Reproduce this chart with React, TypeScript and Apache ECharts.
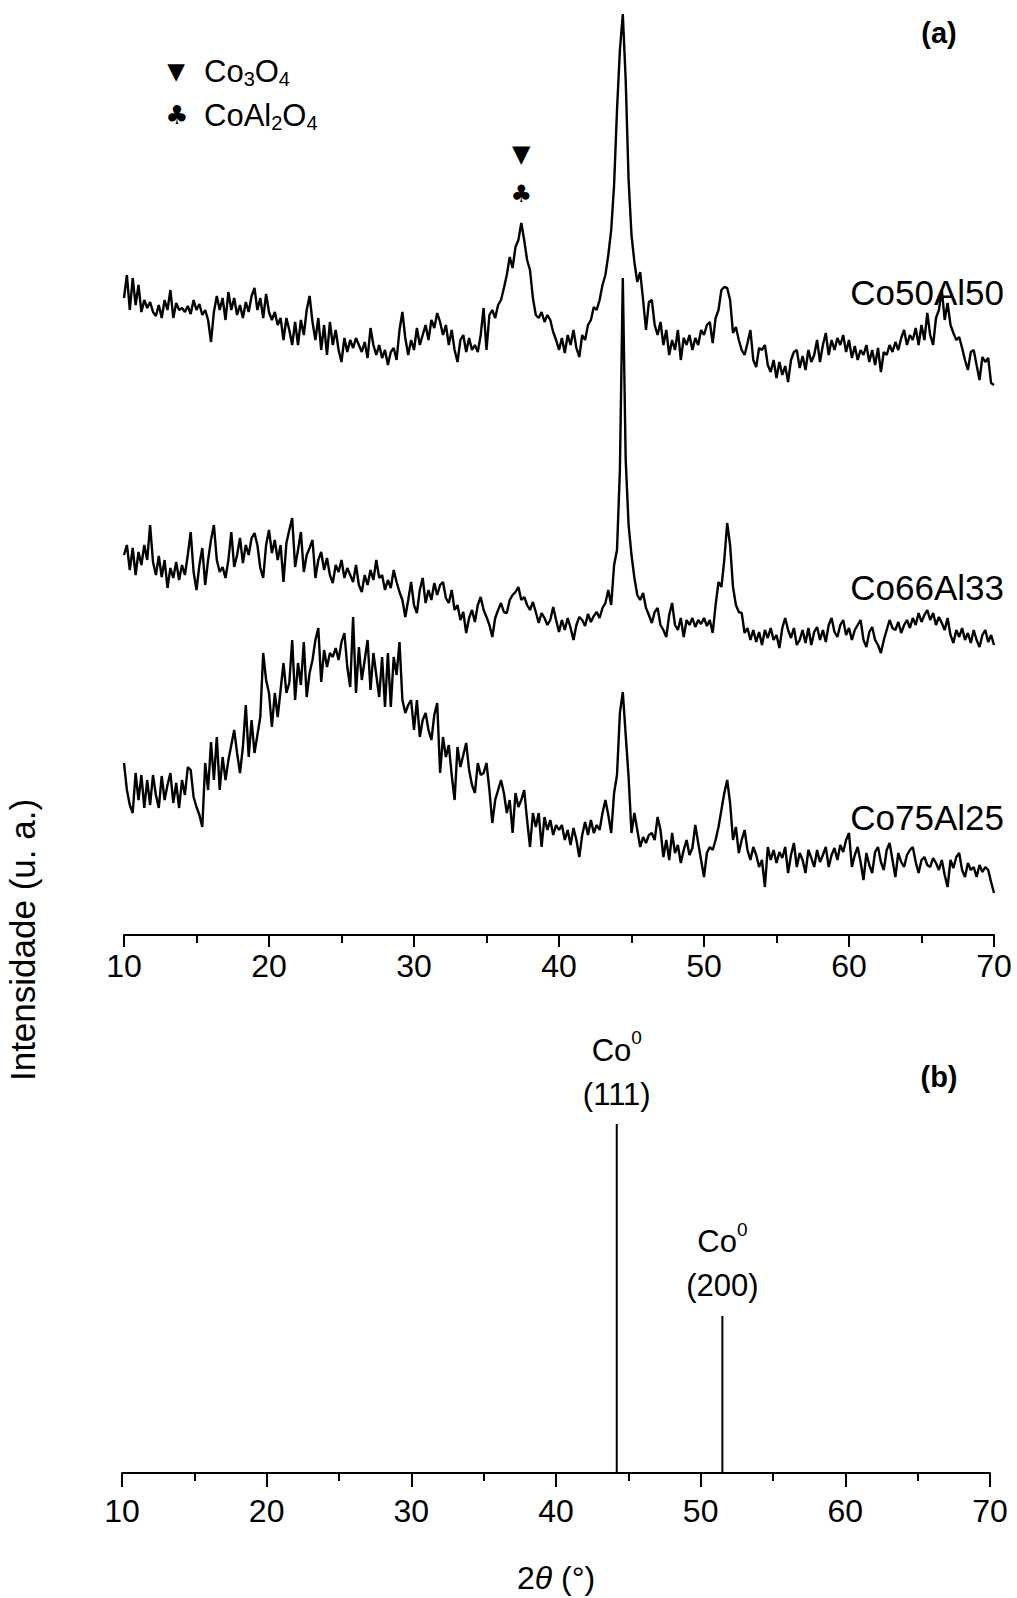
import React, { useEffect, useRef } from "react";
import * as echarts from "echarts";

// XRD scan grid (2θ, degrees)
const scanStart = 10;
const scanStep = 0.2;

// Intensities (a.u., stacked traces as plotted), one value per scan step 10.0 … 70.0
const co50al50: number[] = [
  637, 660, 625, 657, 630, 650, 623, 635, 627, 633,
  623, 619, 630, 617, 635, 625, 645, 617, 632, 625,
  627, 623, 629, 621, 635, 625, 631, 620, 625, 615,
  593, 623, 639, 625, 637, 615, 643, 625, 637, 620,
  630, 617, 633, 623, 639, 647, 625, 637, 617, 641,
  623, 615, 623, 610, 617, 595, 617, 605, 590, 613,
  590, 615, 600, 625, 639, 613, 595, 617, 585, 610,
  580, 613, 590, 605, 585, 573, 597, 583, 595, 587,
  597, 590, 583, 593, 577, 607, 590, 580, 590, 577,
  585, 570, 583, 587, 575, 605, 623, 597, 580, 595,
  585, 607, 590, 600, 610, 595, 615, 607, 622, 613,
  600, 610, 590, 605, 585, 573, 595, 600, 583, 597,
  585, 590, 583, 600, 627, 585, 620, 625, 617, 630,
  635, 647, 660, 678, 667, 688, 695, 712, 695, 675,
  665, 637, 620, 617, 623, 613, 620, 615, 603, 595,
  585, 597, 582, 600, 590, 605, 587, 578, 600, 595,
  610, 615, 628, 625, 635, 650, 660, 680, 705, 750,
  825, 885, 921, 855, 755, 700, 673, 653, 663, 635,
  605, 633, 635, 610, 600, 613, 590, 605, 580, 595,
  585, 605, 575, 597, 590, 600, 585, 597, 590, 605,
  600, 610, 613, 592, 617, 625, 645, 648, 647, 635,
  602, 608, 595, 585, 580, 592, 605, 575, 568, 587,
  585, 590, 570, 563, 575, 557, 573, 560, 569, 553,
  575, 583, 585, 567, 579, 565, 585, 573, 580, 595,
  573, 590, 602, 580, 595, 585, 597, 590, 600, 583,
  595, 577, 589, 575, 585, 580, 590, 573, 585, 570,
  587, 563, 583, 580, 590, 583, 593, 585, 597, 605,
  590, 600, 595, 607, 590, 610, 595, 622, 600, 590,
  617, 625, 645, 615, 632, 610, 602, 595, 598, 587,
  575, 565, 583, 585, 570, 555, 578, 573, 577, 552,
  550,
];

const co66al33: number[] = [
  380, 390, 365, 387, 360, 383, 370, 390, 375, 410,
  373, 360, 379, 358, 375, 347, 367, 357, 373, 355,
  370, 360, 380, 403, 363, 345, 370, 387, 350, 375,
  395, 410, 375, 363, 368, 357, 375, 403, 368, 380,
  397, 372, 390, 380, 397, 402, 390, 367, 357, 390,
  405, 382, 395, 375, 390, 353, 392, 405, 417, 368,
  385, 403, 363, 380, 387, 395, 357, 375, 383, 365,
  377, 360, 352, 370, 363, 375, 357, 367, 360, 353,
  370, 350, 343, 360, 350, 365, 355, 375, 357, 360,
  345, 355, 347, 365, 353, 343, 335, 318, 335, 353,
  330, 322, 345, 357, 332, 345, 335, 352, 340, 350,
  353, 337, 332, 345, 325, 330, 315, 323, 302, 317,
  325, 313, 330, 338, 325, 318, 310, 298, 317, 325,
  332, 323, 322, 335, 340, 343, 348, 335, 338, 330,
  325, 333, 323, 312, 322, 317, 310, 315, 328, 315,
  303, 315, 305, 317, 307, 295, 310, 318, 315, 309,
  321, 313, 319, 323, 317, 327, 332, 345, 330, 370,
  385, 465, 657, 475, 410, 380, 357, 340, 335, 342,
  327, 320, 312, 323, 327, 310, 305, 298, 320, 332,
  310, 305, 317, 298, 315, 310, 317, 308, 315, 311,
  317, 309, 315, 302, 330, 353, 348, 375, 412, 390,
  348, 330, 323, 322, 302, 307, 295, 305, 293, 303,
  290, 305, 297, 307, 295, 300, 287, 307, 317, 305,
  297, 307, 290, 295, 305, 292, 307, 290, 303, 308,
  295, 305, 293, 310, 317, 303, 298, 310, 315, 300,
  307, 295, 305, 310, 315, 295, 288, 303, 308, 295,
  290, 282, 295, 305, 315, 307, 305, 313, 302, 310,
  315, 307, 317, 310, 322, 313, 320, 325, 315, 322,
  310, 318, 312, 305, 317, 300, 292, 305, 298, 307,
  295, 302, 292, 305, 295, 288, 300, 305, 293, 300,
  290,
];

const co75al25: number[] = [
  172, 145, 130, 122, 162, 135, 160, 127, 155, 130,
  160, 140, 127, 159, 135, 150, 162, 132, 152, 127,
  155, 140, 168, 165, 138, 128, 120, 108, 172, 145,
  193, 155, 198, 145, 178, 155, 175, 190, 205, 182,
  162, 188, 230, 178, 215, 182, 200, 218, 282, 255,
  242, 208, 242, 218, 245, 272, 242, 252, 295, 235,
  272, 250, 293, 238, 262, 275, 295, 307, 253, 285,
  268, 282, 278, 287, 275, 293, 302, 268, 248, 318,
  242, 288, 255, 275, 295, 245, 282, 260, 238, 278,
  228, 282, 228, 278, 260, 293, 235, 222, 230, 235,
  205, 235, 198, 215, 222, 205, 195, 220, 232, 162,
  198, 178, 190, 160, 135, 188, 168, 180, 192, 165,
  150, 142, 172, 160, 162, 172, 145, 112, 135, 145,
  155, 142, 122, 135, 102, 142, 128, 135, 145, 115,
  88, 122, 108, 122, 88, 118, 105, 115, 100, 110,
  105, 110, 95, 105, 90, 107, 95, 78, 100, 113,
  100, 115, 102, 110, 105, 122, 135, 120, 102, 142,
  160, 222, 243, 200, 158, 102, 122, 105, 88, 98,
  92, 100, 102, 95, 118, 105, 78, 95, 75, 102,
  82, 90, 72, 85, 95, 80, 87, 110, 92, 75,
  58, 82, 88, 85, 95, 108, 125, 142, 155, 132,
  95, 108, 82, 95, 105, 85, 75, 88, 80, 68,
  75, 48, 88, 75, 85, 72, 83, 77, 88, 62,
  80, 92, 68, 82, 75, 62, 85, 77, 68, 85,
  73, 80, 88, 68, 80, 87, 75, 90, 83, 95,
  102, 68, 80, 88, 73, 55, 82, 70, 62, 83,
  88, 73, 65, 85, 92, 75, 58, 82, 73, 68,
  80, 85, 88, 73, 62, 75, 78, 70, 68, 77,
  72, 65, 75, 60, 48, 75, 67, 78, 82, 65,
  58, 72, 65, 68, 58, 70, 63, 68, 65, 53,
  42,
];

const sampleNames = ["Co50Al50", "Co66Al33", "Co75Al25"];
const sampleLabelHeights = [643, 348, 118];

// Peak markers above the Co50Al50 37.4° reflection
const markerTheta = 37.4;
const markerGlyphs = ["▼", "♣"];
const markerHeights = [781, 741];

// Reference pattern: metallic Co
const refPositions = [44.2, 51.5];
const refIntensities = [100, 45];
const refPlanes = ["(111)", "(200)"];

const W = 1017;
const H = 1598;
const SANS = "Liberation Sans, Arial, sans-serif";
const SYM = "DejaVu Sans, sans-serif";

function toPairs(vals: number[]) {
  return vals.map((v, i) => [Math.round((scanStart + i * scanStep) * 10) / 10, v]);
}

function xAxisDef(gridIndex: number, labelMargin: number, tickLen: number) {
  return {
    type: "value",
    gridIndex,
    min: 10,
    max: 70,
    interval: 10,
    axisLine: { show: true, onZero: false, lineStyle: { color: "#000", width: 2 } },
    axisTick: { show: true, length: tickLen, lineStyle: { color: "#000", width: 2 } },
    minorTick: { show: true, splitNumber: 2, length: 8, lineStyle: { color: "#000", width: 2 } },
    axisLabel: { margin: labelMargin, color: "#000", fontSize: 32, fontFamily: SANS },
    splitLine: { show: false },
    minorSplitLine: { show: false },
  };
}

export default function App() {
  const ref = useRef<HTMLDivElement>(null);

  useEffect(() => {
    document.body.style.margin = "0";
    const chart = echarts.init(ref.current!, null, { renderer: "svg", width: W, height: H });

    const traces = [co50al50, co66al33, co75al25];
    const lineSeries: any[] = traces.map((vals, k) => ({
      type: "line",
      name: sampleNames[k],
      xAxisIndex: 0,
      yAxisIndex: 0,
      data: toPairs(vals),
      symbol: "none",
      showSymbol: false,
      lineStyle: { color: "#000", width: 2.4 },
      z: 3,
      markPoint:
        k === 0
          ? {
              symbol: "circle",
              symbolSize: 1,
              itemStyle: { color: "rgba(0,0,0,0)" },
              label: {
                show: true,
                position: "inside",
                color: "#000",
                fontFamily: SYM,
                fontSize: 24,
                formatter: (p: any) => p.name,
              },
              data: markerGlyphs.map((g, i) => ({
                name: g,
                coord: [markerTheta, markerHeights[i]],
              })),
            }
          : undefined,
    }));

    const barSeries = {
      type: "bar",
      xAxisIndex: 1,
      yAxisIndex: 1,
      data: refPositions.map((p, i) => [p, refIntensities[i]]),
      barWidth: 2,
      itemStyle: { color: "#000" },
      label: {
        show: true,
        position: "top",
        distance: 8,
        color: "#000",
        fontFamily: SANS,
        fontSize: 31,
        formatter: (p: any) => `{co|Co}{sup|0}\n{hkl|${refPlanes[p.dataIndex]}}`,
        rich: {
          co: { fontSize: 31, fontFamily: SANS, lineHeight: 44, color: "#000" },
          sup: { fontSize: 19, fontFamily: SANS, lineHeight: 24, verticalAlign: "top", color: "#000" },
          hkl: { fontSize: 31, fontFamily: SANS, lineHeight: 44, color: "#000" },
        },
      },
    };

    const subRich = {
      t: { fontSize: 31, fontFamily: SANS, lineHeight: 36, fill: "#000", color: "#000" },
      s: { fontSize: 20, fontFamily: SANS, lineHeight: 18, verticalAlign: "bottom", fill: "#000", color: "#000" },
    };

    const graphics: any[] = [
      { type: "text", x: 176, y: 71, style: { text: "▼", fontSize: 23, fontFamily: SYM, fill: "#000", textAlign: "center", textVerticalAlign: "middle" } },
      { type: "text", x: 177, y: 115, style: { text: "♣", fontSize: 26, fontFamily: SYM, fill: "#000", textAlign: "center", textVerticalAlign: "middle" } },
      { type: "text", x: 204, y: 71, style: { text: "{t|Co}{s|3}{t|O}{s|4}", fontFamily: SANS, fontSize: 31, rich: subRich, textAlign: "left", textVerticalAlign: "middle" } },
      { type: "text", x: 204, y: 115, style: { text: "{t|CoAl}{s|2}{t|O}{s|4}", fontFamily: SANS, fontSize: 31, rich: subRich, textAlign: "left", textVerticalAlign: "middle" } },
      { type: "text", x: 939, y: 33, style: { text: "(a)", fontSize: 29, fontWeight: "bold", fontFamily: SANS, fill: "#000", textAlign: "center", textVerticalAlign: "middle" } },
      { type: "text", x: 939, y: 1077, style: { text: "(b)", fontSize: 29, fontWeight: "bold", fontFamily: SANS, fill: "#000", textAlign: "center", textVerticalAlign: "middle" } },
      {
        type: "text",
        x: 22,
        y: 940,
        rotation: Math.PI / 2,
        style: { text: "Intensidade (u. a.)", fontSize: 35, fontFamily: SANS, fill: "#000", textAlign: "center", textVerticalAlign: "middle" },
      },
      {
        type: "text",
        x: 556,
        y: 1578,
        style: {
          text: "{n|2}{i|θ}{n| (°)}",
          fontFamily: SANS,
          fontSize: 32,
          textAlign: "center",
          textVerticalAlign: "middle",
          rich: {
            n: { fontSize: 32, lineHeight: 34, fontFamily: SANS, fill: "#000", color: "#000" },
            i: { fontSize: 32, lineHeight: 34, fontFamily: SANS, fontStyle: "italic", fill: "#000", color: "#000" },
          },
        },
      },
    ];

    const option: any = {
      animation: false,
      backgroundColor: "#fff",
      textStyle: { fontFamily: SANS },
      grid: [
        { left: 124, right: W - 994, top: 0, bottom: H - 935, containLabel: false },
        { left: 122, right: W - 990, top: 1124, bottom: H - 1473, containLabel: false },
      ],
      xAxis: [xAxisDef(0, 15, 12), xAxisDef(1, 22, 14)],
      yAxis: [
        { type: "value", gridIndex: 0, min: 0, max: 935, show: false },
        { type: "value", gridIndex: 1, min: 0, max: 100, show: false },
      ],
      series: [...lineSeries, barSeries],
      graphic: graphics,
    };
    chart.setOption(option);

    // sample names, placed at the right end of each trace
    const labelGraphics = sampleNames.map((name, k) => {
      const [, py] = chart.convertToPixel({ gridIndex: 0 }, [70, sampleLabelHeights[k]]) as number[];
      return {
        type: "text",
        x: 1004,
        y: py,
        style: { text: name, fontSize: 35, fontFamily: SANS, fill: "#000", textAlign: "right", textVerticalAlign: "middle" },
      };
    });
    chart.setOption({ graphic: [...graphics, ...labelGraphics] });

    return () => chart.dispose();
  }, []);

  return <div ref={ref} style={{ width: W, height: H, background: "#fff" }} />;
}
